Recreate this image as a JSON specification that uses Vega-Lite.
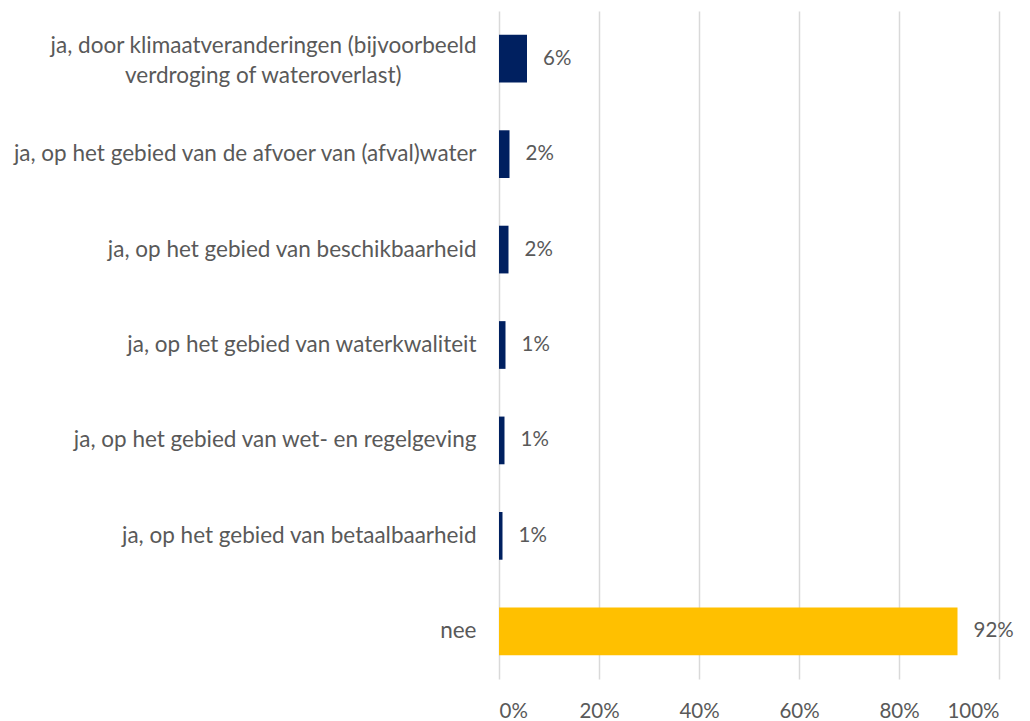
{
  "$schema": "https://vega.github.io/schema/vega-lite/v6.json",
  "width": 500,
  "height": 668,
  "autosize": {"type": "none"},
  "padding": {"left": 499, "top": 11, "right": 31, "bottom": 42},
  "background": "white",
  "config": {"view": {"stroke": null}, "font": "Lato"},
  "data": {
    "values": [
      {"categorie": "ja, door klimaatveranderingen (bijvoorbeeld|verdroging of wateroverlast)", "aandeel": 0.056, "groep": "ja"},
      {"categorie": "ja, op het gebied van de afvoer van (afval)water", "aandeel": 0.021, "groep": "ja"},
      {"categorie": "ja, op het gebied van beschikbaarheid", "aandeel": 0.019, "groep": "ja"},
      {"categorie": "ja, op het gebied van waterkwaliteit", "aandeel": 0.013, "groep": "ja"},
      {"categorie": "ja, op het gebied van wet- en regelgeving", "aandeel": 0.011, "groep": "ja"},
      {"categorie": "ja, op het gebied van betaalbaarheid", "aandeel": 0.007, "groep": "ja"},
      {"categorie": "nee", "aandeel": 0.917, "groep": "nee"}
    ]
  },
  "encoding": {
    "y": {
      "field": "categorie",
      "type": "nominal",
      "sort": null,
      "scale": {"paddingInner": 0.5, "paddingOuter": 0.25},
      "axis": {
        "title": null,
        "domain": false,
        "ticks": false,
        "labelPadding": 23,
        "labelFontSize": 22.5,
        "labelColor": "#595959",
        "labelLimit": 700,
        "labelLineHeight": 30,
        "labelOffset": {"condition": {"test": "indexof(datum.value, '|') > 0", "value": -13}, "value": 0},
        "labelExpr": "indexof(datum.label, '|') > 0 ? [split(datum.label, '|')[0], split(datum.label, '|')[1] + '\u00a0\u00a0\u00a0\u00a0\u00a0\u00a0\u00a0\u00a0\u00a0\u00a0\u00a0\u00a0\u00a0\u200b'] : datum.label"
      }
    },
    "x": {
      "field": "aandeel",
      "type": "quantitative",
      "scale": {"domain": [0, 1]},
      "axis": {
        "title": null,
        "format": ".0%",
        "values": [0, 0.2, 0.4, 0.6, 0.8, 1],
        "domain": false,
        "ticks": false,
        "grid": true,
        "gridColor": "#D9D9D9",
        "gridWidth": 1.5,
        "labelPadding": 22,
        "labelFontSize": 20.5,
        "labelColor": "#595959"
      }
    }
  },
  "layer": [
    {
      "mark": {"type": "bar"},
      "encoding": {
        "color": {
          "field": "groep",
          "type": "nominal",
          "scale": {"domain": ["ja", "nee"], "range": ["#002060", "#FFC000"]},
          "legend": null
        }
      }
    },
    {
      "mark": {"type": "text", "align": "left", "dx": 16, "fontSize": 20.5, "color": "#595959"},
      "encoding": {
        "text": {"field": "aandeel", "type": "quantitative", "format": ".0%"}
      }
    }
  ]
}
